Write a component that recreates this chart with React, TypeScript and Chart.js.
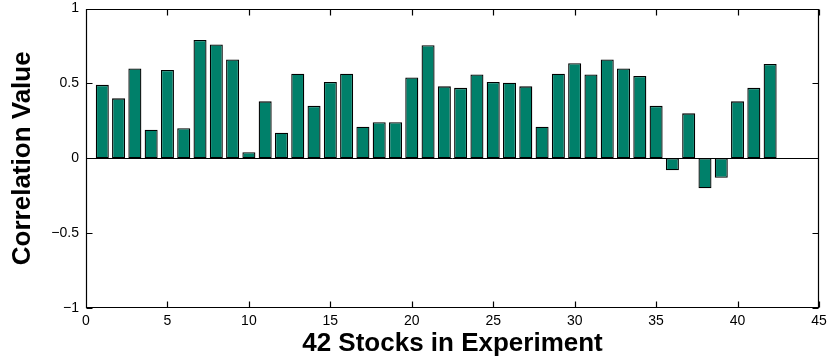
import React, { useEffect, useRef } from "react";
import { Chart, registerables } from "chart.js";

Chart.register(...registerables);

// Stock index (1..42) and the correlation measured for each one
const stockIndex = [
  1, 2, 3, 4, 5, 6, 7, 8, 9, 10, 11, 12, 13, 14, 15, 16, 17, 18, 19, 20, 21,
  22, 23, 24, 25, 26, 27, 28, 29, 30, 31, 32, 33, 34, 35, 36, 37, 38, 39, 40,
  41, 42,
];
const correlation = [
  0.49, 0.40, 0.60, 0.19, 0.59, 0.20, 0.79, 0.76, 0.66, 0.04, 0.38, 0.17,
  0.565, 0.35, 0.51, 0.565, 0.21, 0.24, 0.24, 0.54, 0.755, 0.48, 0.47, 0.56,
  0.51, 0.505, 0.48, 0.21, 0.565, 0.635, 0.56, 0.66, 0.60, 0.55, 0.35, -0.08,
  0.30, -0.20, -0.13, 0.38, 0.47, 0.63,
];
const xTickValues = [0, 5, 10, 15, 20, 25, 30, 35, 40, 45];
const yTickValues = [-1, -0.5, 0, 0.5, 1];

const FONT = "'Liberation Sans', Arial, Helvetica, sans-serif";
const BAR_FILL = "#00806a";

const fmtNum = (v: number) => (v < 0 ? "\u2212" + String(-v) : String(v));

// Boxed frame with inward tick marks on all four sides plus a zero baseline
const frameTicks = {
  id: "frameTicks",
  beforeDatasetsDraw(chart: any) {
    const { ctx, chartArea, scales } = chart;
    const y0 = Math.round(scales.y.getPixelForValue(0)) + 0.5;
    ctx.save();
    ctx.strokeStyle = "#000";
    ctx.lineWidth = 1;
    ctx.beginPath();
    ctx.moveTo(chartArea.left, y0);
    ctx.lineTo(chartArea.right, y0);
    ctx.stroke();
    ctx.restore();
  },
  afterDatasetsDraw(chart: any) {
    const { ctx, chartArea, scales } = chart;
    const { left, right, top, bottom } = chartArea;
    const len = 6;
    ctx.save();
    ctx.strokeStyle = "#000";
    ctx.lineWidth = 1.2;
    const L = Math.round(left) + 0.5;
    const R = Math.round(right) - 0.5;
    const T = Math.round(top) + 0.5;
    const B = Math.round(bottom) - 0.5;
    ctx.beginPath();
    ctx.rect(L, T, R - L, B - T);
    for (const v of xTickValues) {
      const px = Math.round(scales.x.getPixelForValue(v)) + 0.5;
      ctx.moveTo(px, B);
      ctx.lineTo(px, B - len);
      ctx.moveTo(px, T);
      ctx.lineTo(px, T + len);
    }
    for (const v of yTickValues) {
      const py = Math.round(scales.y.getPixelForValue(v)) + 0.5;
      ctx.moveTo(L, py);
      ctx.lineTo(L + len, py);
      ctx.moveTo(R, py);
      ctx.lineTo(R - len, py);
    }
    ctx.stroke();
    ctx.restore();
  },
};

export default function App() {
  const canvasRef = useRef<HTMLCanvasElement | null>(null);

  useEffect(() => {
    if (!canvasRef.current) return;
    const points = stockIndex.map((s, i) => ({ x: s, y: correlation[i] }));
    const chart = new Chart(canvasRef.current, {
      type: "bar",
      data: {
        datasets: [
          {
            data: points as any,
            backgroundColor: BAR_FILL,
            borderColor: "#000",
            borderWidth: 1.3,
            borderSkipped: false,
            barPercentage: 0.8,
            categoryPercentage: 1,
          },
        ],
      },
      options: {
        animation: false,
        responsive: false,
        maintainAspectRatio: false,
        layout: { padding: 0 },
        plugins: {
          legend: { display: false },
          tooltip: { enabled: false },
        },
        scales: {
          x: {
            type: "linear",
            min: 0,
            max: 45,
            offset: false,
            grid: { display: false, drawTicks: false, offset: false },
            border: { display: false },
            afterBuildTicks: (scale: any) => {
              scale.ticks = xTickValues.map((v) => ({ value: v }));
            },
            afterFit: (scale: any) => {
              scale.height = 52;
              scale.paddingLeft = 0;
              scale.paddingRight = 11;
            },
            ticks: {
              autoSkip: false,
              maxRotation: 0,
              padding: 5,
              color: "#000",
              font: { family: FONT, size: 14 },
              callback: (v: any) => fmtNum(Number(v)),
            },
            title: {
              display: true,
              text: "42 Stocks in Experiment",
              color: "#000",
              padding: { top: 0, bottom: 1 },
              font: { family: FONT, size: 26, weight: "bold" },
            },
          },
          y: {
            min: -1,
            max: 1,
            grid: { display: false, drawTicks: false },
            border: { display: false },
            afterBuildTicks: (scale: any) => {
              scale.ticks = yTickValues.map((v) => ({ value: v }));
            },
            afterFit: (scale: any) => {
              scale.width = 86;
              scale.paddingTop = 8.5;
              scale.paddingBottom = 0;
            },
            ticks: {
              padding: 7,
              color: "#000",
              font: { family: FONT, size: 14 },
              callback: (v: any) => fmtNum(Number(v)),
            },
            title: {
              display: true,
              text: "Correlation Value",
              color: "#000",
              padding: { top: 7, bottom: 0 },
              font: { family: FONT, size: 26, weight: "bold" },
            },
          },
        },
      },
      plugins: [frameTicks],
    });
    return () => chart.destroy();
  }, []);

  return (
    <div
      style={{
        position: "fixed",
        left: 0,
        top: 0,
        width: 830,
        height: 360,
        background: "#fff",
      }}
    >
      <canvas ref={canvasRef} width={830} height={360} />
    </div>
  );
}
